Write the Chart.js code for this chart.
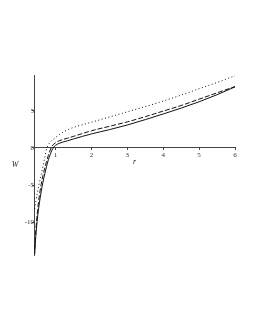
<!DOCTYPE html>
<html><head><meta charset="utf-8">
<script src="https://cdn.jsdelivr.net/npm/chart.js@4"></script>
<style>html,body{margin:0;padding:0;background:#fff}#wrap{width:255px;height:330px}</style>
</head><body><div id="wrap"><canvas id="c" width="255" height="330"></canvas></div>
<script>
const rSolid = [0.42,0.45,0.5,0.55,0.6,0.65,0.7,0.75,0.8,0.85,0.9,0.95,1.0,1.1,1.2,1.33,1.5,2,2.5,3,3.5,4,4.5,5,5.5,6];
const wSolid = [-14.3,-11.9,-9.3,-7.4,-5.9,-4.6,-3.5,-2.5,-1.6,-0.9,-0.3,0.1,0.35,0.6,0.78,0.95,1.2,1.88,2.45,3.08,3.8,4.56,5.35,6.2,7.15,8.2];
const rDashed = [0.42,0.45,0.5,0.55,0.6,0.65,0.7,0.75,0.8,0.85,0.9,0.95,1.0,1.1,1.2,1.33,1.5,2,2.5,3,3.5,4,4.5,5,5.5,6];
const wDashed = [-13.6,-11.2,-8.4,-6.4,-4.9,-3.7,-2.7,-1.8,-1.0,-0.3,0.2,0.5,0.7,0.95,1.12,1.3,1.55,2.3,2.9,3.5,4.2,4.95,5.7,6.55,7.4,8.25];
const rDotted = [0.42,0.45,0.5,0.55,0.6,0.65,0.7,0.76,0.85,1.0,1.15,1.3,1.5,2,2.5,3,3.5,4,4.5,5,5.5,6];
const wDotted = [-8.2,-7.2,-5.9,-4.7,-3.6,-2.5,-1.3,0,0.75,1.4,1.95,2.35,2.75,3.45,4.15,4.85,5.55,6.3,7.1,7.95,8.8,9.7];
const xTickValues = [1,2,3,4,5,6];
const yTickValues = [-10,-5,0,5];
const xTitle = 'r';
const yTitle = 'W';

const pts = (xs, ys) => xs.map((x, i) => ({x: x, y: ys[i]}));

const axisTitles = {
  id: 'axisTitles',
  afterDraw(chart) {
    const {ctx, chartArea: a, scales} = chart;
    ctx.save();
    ctx.font = 'italic 8px "Liberation Serif"';
    ctx.fillStyle = '#222';
    ctx.textAlign = 'center';
    ctx.textBaseline = 'middle';
    ctx.fillText(xTitle, (a.left + a.right) / 2, scales.y.getPixelForValue(0) + 14);
    ctx.fillText(yTitle, a.left - 19, (a.top + a.bottom) / 2);
    ctx.restore();
  }
};

const tickFont = {family: '"Liberation Serif", serif', size: 7};

new Chart(document.getElementById('c'), {
  type: 'line',
  data: {
    datasets: [
      {data: pts(rDotted, wDotted), borderColor: '#111', borderWidth: 1, borderDash: [1, 2.5], pointRadius: 0, cubicInterpolationMode: 'monotone', fill: false},
      {data: pts(rDashed, wDashed), borderColor: '#111', borderWidth: 1, borderDash: [5, 2], pointRadius: 0, cubicInterpolationMode: 'monotone', fill: false},
      {data: pts(rSolid, wSolid), borderColor: '#111', borderWidth: 1, pointRadius: 0, cubicInterpolationMode: 'monotone', fill: false}
    ]
  },
  options: {
    responsive: false,
    animation: false,
    devicePixelRatio: 1,
    layout: {padding: {left: 34, right: 20, top: 75, bottom: 75}},
    plugins: {legend: {display: false}, tooltip: {enabled: false}},
    scales: {
      x: {
        type: 'linear', min: 0.4, max: 6,
        position: {y: 0},
        afterFit(s) { s.height = 0; },
        afterBuildTicks(s) { s.ticks = xTickValues.map(v => ({value: v})); },
        grid: {display: true, drawOnChartArea: false, drawTicks: true, tickLength: 2, color: '#444'},
        border: {display: true, color: '#444', width: 1},
        ticks: {font: tickFont, color: '#333', padding: 1, maxRotation: 0, autoSkip: false}
      },
      y: {
        type: 'linear', min: -14.4, max: 9.8,
        position: {x: 0.4},
        afterFit(s) { s.width = 0; },
        afterBuildTicks(s) { s.ticks = yTickValues.map(v => ({value: v})); },
        grid: {display: true, drawOnChartArea: false, drawTicks: true, tickLength: 2, color: '#444'},
        border: {display: true, color: '#444', width: 1},
        ticks: {font: tickFont, color: '#333', padding: 1, autoSkip: false}
      }
    }
  },
  plugins: [axisTitles]
});
</script>
</body></html>
